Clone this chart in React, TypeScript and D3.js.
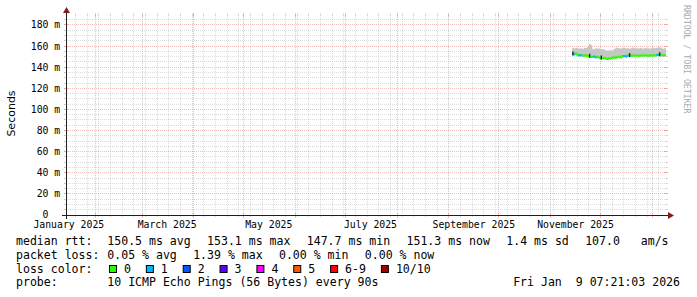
import React from "react";
import * as d3 from "d3";

// ---------- data ----------
const END = new Date(Date.UTC(2026, 0, 9, 7, 21, 3));
const SPAN_DAYS = 360;
const Y_MAX = 189.47;

const yTickValues = [0, 20, 40, 60, 80, 100, 120, 140, 160, 180];
const yTickLabels = ["0", "20 m", "40 m", "60 m", "80 m", "100 m", "120 m", "140 m", "160 m", "180 m"];

const dataStart = [2025, 10, 14]; // Nov 14 2025, one sample per day
const medianMs = [152.6, 152.2, 153.1, 151.8, 151.2, 151.5, 151.0, 150.8, 151.3, 150.6,
  150.4, 150.0, 149.6, 150.2, 149.5, 149.8, 149.2, 148.8, 148.5, 148.9,
  148.2, 147.7, 148.3, 148.6, 148.9, 149.4, 149.0, 149.6, 149.8, 149.2,
  150.3, 150.6, 150.2, 150.8, 151.0, 151.1, 150.9, 151.2, 151.0, 151.1,
  150.9, 151.2, 151.1, 151.0, 151.2, 151.1, 150.9, 151.3, 151.1, 151.4,
  151.2, 151.5, 151.7, 152.0, 151.0, 151.3];
const smokeHiMs = [158.5, 157.8, 158.2, 158.0, 157.5, 158.0, 157.6, 158.3, 158.3, 159.5,
  162.0, 161.0, 157.4, 157.0, 158.5, 157.6, 158.0, 157.2, 157.0, 156.5,
  155.8, 155.5, 156.4, 155.6, 156.0, 157.4, 158.6, 157.9, 158.3, 157.6,
  158.1, 158.5, 157.8, 158.2, 157.5, 158.0, 158.6, 157.9, 158.3, 157.7,
  158.0, 158.4, 157.6, 158.1, 157.8, 158.3, 157.5, 158.0, 158.4, 157.9,
  158.2, 158.6, 158.9, 158.4, 157.6, 157.9];
const smokeLoMs = [151.6, 151.2, 151.9, 150.9, 150.3, 150.4, 150.1, 149.9, 150.2, 149.7,
  149.5, 149.1, 148.8, 149.2, 148.6, 148.9, 148.3, 147.9, 147.7, 148.0,
  147.4, 146.9, 147.4, 147.7, 148.0, 148.5, 148.1, 148.7, 148.9, 148.4,
  149.4, 149.7, 149.3, 149.9, 150.1, 150.2, 150.0, 150.3, 150.1, 150.2,
  150.0, 150.3, 150.2, 150.1, 150.3, 150.2, 150.0, 150.4, 150.2, 150.5,
  150.3, 150.6, 150.8, 151.1, 150.1, 150.4];
const lossCount = [1, 1, 0, 0, 1, 1, 0, 0, 0, 0,
  0, 0, 0, 1, 1, 0, 0, 0, 0, 0,
  0, 0, 0, 0, 0, 0, 0, 0, 0, 0,
  0, 1, 1, 1, 0, 0, 0, 0, 0, 0,
  0, 0, 0, 0, 0, 0, 0, 0, 0, 0,
  0, 1, 1, 0, 0, 0];
const darkDays = [0, 10, 17, 34, 52];

const lossLabels = ["0", "1", "2", "3", "4", "5", "6-9", "10/10"];
const lossColors = ["#26ff00", "#00b8ff", "#0059ff", "#5e00ff", "#ff00ff", "#ff5500", "#ff0000", "#a10000"];

const rttStats = ["150.5 ms avg", "153.1 ms max", "147.7 ms min", "151.3 ms now", "1.4 ms sd", "107.0   am/s"];
const lossStats = ["0.05 % avg", "1.39 % max", "0.00 % min", "0.00 % now"];
const probeText = "10 ICMP Echo Pings (56 Bytes) every 90s";
const dateText = "Fri Jan  9 07:21:03 2026";

// ---------- layout ----------
const W = 697, H = 297;
const X0 = 66, X1 = 666, Y0 = 215, Y1 = 15;
const MONO = "'DejaVu Sans Mono', monospace";
const LEG_FS = 11.55, LEG_CW = LEG_FS * 0.602;
const TICK_FS = 9.8;
const GRID = "#8f8f8f", MGRID = "#de5050", AXIS = "#1f1f1f", ARROW = "#801f1f";
const G_OP = 0.32, MG_OP = 0.38;
const DAY = 864e5;

export default function App() {
  const start = new Date(END.getTime() - SPAN_DAYS * DAY);
  const x = d3.scaleUtc().domain([start, END]).range([X0, X1]);
  const y = d3.scaleLinear().domain([0, Y_MAX]).range([Y0, Y1]);
  const snap = (v: number) => Math.floor(v) + 0.5;

  const days = medianMs.map((m, i) => ({
    date: new Date(Date.UTC(dataStart[0], dataStart[1], dataStart[2] + i)),
    med: m, hi: smokeHiMs[i], lo: smokeLoMs[i], loss: lossCount[i],
  }));
  const nextDate = (i: number) => (i + 1 < days.length ? days[i + 1].date : END);

  const smokeRows = [...days, { ...days[days.length - 1], date: END }];
  const smoke = d3.area<any>()
    .x((d) => x(d.date)).y0((d) => y(d.lo)).y1((d) => y(d.hi))
    .curve(d3.curveStepAfter)(smokeRows) || "";

  // grid
  const months = d3.utcMonth.range(start, END);
  const monthSet = new Set(months.map((d) => +d));
  const weeks = d3.utcMonday.range(start, END).filter((d) => !monthSet.has(+d));
  const minorY = d3.range(5, Y_MAX, 5).filter((v) => v % 20 !== 0);
  const majorY = yTickValues.filter((v) => v > 0);

  const labelMonths = d3.utcMonth.range(new Date(Date.UTC(2025, 0, 1)), END)
    .filter((d) => d.getUTCMonth() % 2 === 0)
    .map((d) => ({ d, t: new Date(+d + 15 * DAY) }))
    .filter((o) => o.t >= start && o.t <= END);
  const fmt = d3.utcFormat("%B %Y");

  // legend positions
  const GAP = 16.3;
  let cx = 107.3;
  const rttPos = rttStats.map((s) => { const p = cx; cx += s.length * LEG_CW + GAP; return p; });
  cx = 107.3;
  const lossPos = lossStats.map((s) => { const p = cx; cx += s.length * LEG_CW + GAP; return p; });
  let bx = 109;
  const swPos = lossLabels.map((s) => { const p = bx; bx += 15 + s.length * LEG_CW + 14.9; return p; });

  const L1 = 245.3, L2 = 259, L3 = 272.6, L4 = 286.2;
  const pre = { whiteSpace: "pre" as const };

  return (
    <svg width={W} height={H} style={{ position: "absolute", left: 0, top: 0, background: "#fff" }}
      fontFamily={MONO}>
      <rect width={W} height={H} fill="#fff" />
      {/* minor horizontal grid */}
      {minorY.map((v) => (
        <g key={"mh" + v} stroke={GRID} strokeOpacity={G_OP} strokeWidth={1}>
          <line x1={X0 - 2} x2={X1 + 2} y1={snap(y(v))} y2={snap(y(v))} strokeDasharray="1 1" />
          <line x1={X0 - 2} x2={X0} y1={snap(y(v))} y2={snap(y(v))} />
          <line x1={X1} x2={X1 + 2} y1={snap(y(v))} y2={snap(y(v))} />
        </g>
      ))}
      {/* minor vertical grid */}
      {weeks.map((d) => (
        <g key={"mv" + +d} stroke={GRID} strokeOpacity={G_OP} strokeWidth={1}>
          <line x1={snap(x(d))} x2={snap(x(d))} y1={Y0 + 1} y2={Y1 - 1} strokeDasharray="1 1" />
          <line x1={snap(x(d))} x2={snap(x(d))} y1={Y1 - 2} y2={Y1} />
          <line x1={snap(x(d))} x2={snap(x(d))} y1={Y0} y2={Y0 + 2} />
        </g>
      ))}
      {/* major horizontal grid */}
      {majorY.map((v) => (
        <g key={"Mh" + v} stroke={MGRID} strokeOpacity={MG_OP} strokeWidth={1}>
          <line x1={X0 - 2} x2={X1 + 2} y1={snap(y(v))} y2={snap(y(v))} strokeDasharray="1 1" />
          <line x1={X0 - 2} x2={X0 + 2} y1={snap(y(v))} y2={snap(y(v))} />
          <line x1={X1 - 2} x2={X1 + 2} y1={snap(y(v))} y2={snap(y(v))} />
        </g>
      ))}
      {/* major vertical grid */}
      {months.map((d) => (
        <g key={"Mv" + +d} stroke={MGRID} strokeOpacity={MG_OP} strokeWidth={1}>
          <line x1={snap(x(d))} x2={snap(x(d))} y1={Y0 + 1} y2={Y1 - 1} strokeDasharray="1 1" />
          <line x1={snap(x(d))} x2={snap(x(d))} y1={Y1 - 2} y2={Y1 + 2} />
          <line x1={snap(x(d))} x2={snap(x(d))} y1={Y0 - 2} y2={Y0 + 3} />
        </g>
      ))}

      {/* smoke */}
      <path d={smoke} fill="#c6c6c6" />
      {/* median line coloured by loss */}
      {days.map((d, i) => {
        const prevY = i > 0 ? y(days[i - 1].med) : y(d.med);
        const xa = x(d.date), xb = x(nextDate(i));
        return (
          <path key={"m" + i} d={`M${xa},${prevY}V${y(d.med)}H${xb}`} fill="none"
            stroke={lossColors[d.loss]} strokeWidth={2} />
        );
      })}
      {darkDays.map((i) => (
        <line key={"dk" + i} x1={x(days[i].date) + 0.8} x2={x(days[i].date) + 0.8}
          y1={y(days[i].med) - 2.5} y2={y(days[i].med) + 1.5} stroke="#222" strokeWidth={1.4} />
      ))}

      {/* axes */}
      <line x1={X0 - 4} x2={X1 + 4} y1={Y0 + 0.5} y2={Y0 + 0.5} stroke={AXIS} strokeWidth={1} />
      <line x1={X0 + 0.5} x2={X0 + 0.5} y1={Y0 + 4} y2={Y1 - 4} stroke={AXIS} strokeWidth={1} />
      <path d={`M${X1 + 2},${Y0 - 3}L${X1 + 2},${Y0 + 4}L${X1 + 8},${Y0 + 0.5}Z`} fill={ARROW} />
      <path d={`M${X0 - 3},${Y1 - 2}L${X0 + 4},${Y1 - 2}L${X0 + 0.5},${Y1 - 8}Z`} fill={ARROW} />

      {/* y tick labels */}
      {yTickValues.map((v, i) => {
        const [num, unit] = yTickLabels[i].split(" ");
        const yy = snap(y(v)) + (v === 0 ? 2.6 : 3.4);
        return (
          <g key={"yl" + v} fontSize={TICK_FS} fill="#000">
            <text x={48.5} y={yy} textAnchor="end">{num}</text>
            {unit && <text x={54.3} y={yy}>{unit}</text>}
          </g>
        );
      })}
      {/* x labels */}
      {labelMonths.map((o) => (
        <text key={"xl" + +o.d} x={x(o.t)} y={228} fontSize={TICK_FS} textAnchor="middle" fill="#000">
          {fmt(o.d)}
        </text>
      ))}

      {/* axis title */}
      <text transform="translate(15,113.5) rotate(-90)" textAnchor="middle"
        fontFamily="'DejaVu Sans', sans-serif" fontSize={11} fill="#000">Seconds</text>
      {/* watermark */}
      <text transform="translate(684,5) rotate(90)" fontSize={8.2} fill="#aaaaaa">RRDTOOL / TOBI OETIKER</text>

      {/* legend */}
      <g fontSize={LEG_FS} fill="#000">
        <text x={16} y={L1}>median rtt:</text>
        {rttStats.map((s, i) => <text key={"r" + i} x={rttPos[i]} y={L1} xmlSpace="preserve" style={pre}>{s}</text>)}
        <text x={16} y={L2}>packet loss:</text>
        {lossStats.map((s, i) => <text key={"p" + i} x={lossPos[i]} y={L2}>{s}</text>)}
        <text x={16} y={L3}>loss color:</text>
        {lossLabels.map((s, i) => (
          <g key={"s" + i}>
            <rect x={swPos[i] + 0.5} y={265.5} width={7} height={7} fill={lossColors[i]} stroke="#000" strokeWidth={1} />
            <text x={swPos[i] + 15} y={L3}>{s}</text>
          </g>
        ))}
        <text x={16} y={L4}>probe:</text>
        <text x={107.3} y={L4}>{probeText}</text>
        <text x={680} y={L4} textAnchor="end" xmlSpace="preserve" style={pre}>{dateText}</text>
      </g>
    </svg>
  );
}
